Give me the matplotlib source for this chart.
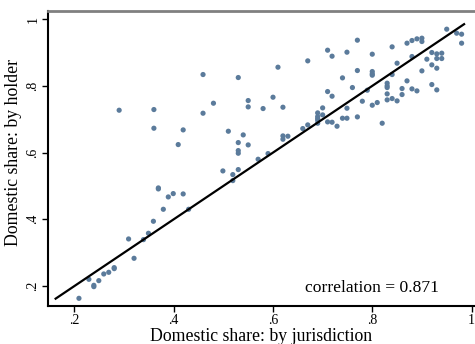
import matplotlib
matplotlib.use("Agg")
import matplotlib.pyplot as plt

# share held domestically, by jurisdiction (x) vs by holder (y)
by_jurisdiction = [
    0.209, 0.229, 0.239, 0.239, 0.249, 0.259, 0.269, 0.280, 0.280, 0.309,
    0.320, 0.339, 0.349, 0.359, 0.369, 0.369, 0.379, 0.389, 0.399, 0.419,
    0.430, 0.290, 0.360, 0.360, 0.419, 0.409, 0.459, 0.530, 0.480, 0.459,
    0.550, 0.550, 0.510, 0.540, 0.530, 0.550, 0.530, 0.530, 0.570, 0.590,
    0.499, 0.519, 0.519, 0.530, 0.580, 0.600, 0.610, 0.620, 0.620, 0.620,
    0.630, 0.660, 0.670, 0.670, 0.690, 0.690, 0.690, 0.690, 0.690, 0.700,
    0.700, 0.710, 0.719, 0.729, 0.740, 0.749, 0.749, 0.710, 0.719, 0.740,
    0.760, 0.770, 0.770, 0.780, 0.790, 0.800, 0.810, 0.820, 0.800, 0.800,
    0.800, 0.710, 0.719, 0.749, 0.770, 0.800, 0.830, 0.830, 0.830, 0.830,
    0.830, 0.840, 0.850, 0.840, 0.840, 0.850, 0.860, 0.860, 0.870, 0.880,
    0.890, 0.870, 0.880, 0.890, 0.900, 0.900, 0.880, 0.900, 0.910, 0.920,
    0.930, 0.940, 0.930, 0.940, 0.920, 0.930, 0.920, 0.930, 0.950, 0.970,
    0.980, 0.980,
]
by_holder = [
    0.163, 0.220, 0.202, 0.198, 0.216, 0.236, 0.241, 0.255, 0.252, 0.341,
    0.283, 0.339, 0.358, 0.394, 0.494, 0.491, 0.430, 0.467, 0.477, 0.476,
    0.430, 0.727, 0.729, 0.673, 0.668, 0.624, 0.834, 0.825, 0.748, 0.718,
    0.756, 0.737, 0.664, 0.653, 0.630, 0.623, 0.606, 0.598, 0.580, 0.597,
    0.545, 0.534, 0.516, 0.549, 0.732, 0.766, 0.856, 0.736, 0.650, 0.640,
    0.649, 0.672, 0.683, 0.875, 0.719, 0.708, 0.702, 0.697, 0.688, 0.734,
    0.713, 0.692, 0.691, 0.679, 0.703, 0.703, 0.733, 0.783, 0.769, 0.824,
    0.795, 0.846, 0.707, 0.754, 0.787, 0.742, 0.750, 0.688, 0.843, 0.836,
    0.832, 0.907, 0.889, 0.901, 0.937, 0.895, 0.808, 0.800, 0.795, 0.776,
    0.758, 0.762, 0.755, 0.834, 0.917, 0.868, 0.792, 0.774, 0.815, 0.791,
    0.785, 0.928, 0.936, 0.941, 0.943, 0.933, 0.888, 0.845, 0.880, 0.900,
    0.896, 0.898, 0.882, 0.882, 0.863, 0.853, 0.804, 0.788, 0.970, 0.958,
    0.955, 0.928,
]
diag_range = [0.162, 0.985]
ticks = [0.2, 0.4, 0.6, 0.8, 1.0]
tick_labels = [".2", ".4", ".6", ".8", "1"]
correlation = 0.871

plt.rcParams['font.family'] = ['Liberation Serif', 'DejaVu Serif']

fig = plt.figure(figsize=(4.75, 3.44), dpi=100)
ax = fig.add_axes([0.1004, 0.1105, 0.8996, 0.8576])

ax.scatter(by_jurisdiction, by_holder, s=14, color='#5b7b9b',
           edgecolors='none', zorder=2)
ax.plot(diag_range, diag_range, color='black', lw=1.6, zorder=3)

ax.set_xlim(0.146, 1.007)
ax.set_ylim(0.14, 1.0246)

ax.set_xticks(ticks)
ax.set_xticklabels(tick_labels)
ax.set_yticks(ticks)
ax.set_yticklabels(tick_labels, rotation=90, va='center')
ax.tick_params(direction='out', length=4, width=1, labelsize=10, pad=2)

ax.set_xlabel('Domestic share: by jurisdiction', fontsize=12.8, va='center')
ax.xaxis.set_label_coords(0.5, -0.103)
ax.set_ylabel('Domestic share: by holder', fontsize=12.8, va='center')
ax.yaxis.set_label_coords(-0.079, 0.52)

ax.text(0.799, 0.194, 'correlation = %.3f' % correlation, fontsize=12.6,
        ha='center', va='center')

for side in ['left', 'bottom']:
    ax.spines[side].set_linewidth(1.5)
    ax.spines[side].set_color('black')
ax.spines['top'].set_color('#808080')
ax.spines['top'].set_linewidth(2)
ax.spines['right'].set_visible(False)

fig.savefig('out.png', dpi=100)
